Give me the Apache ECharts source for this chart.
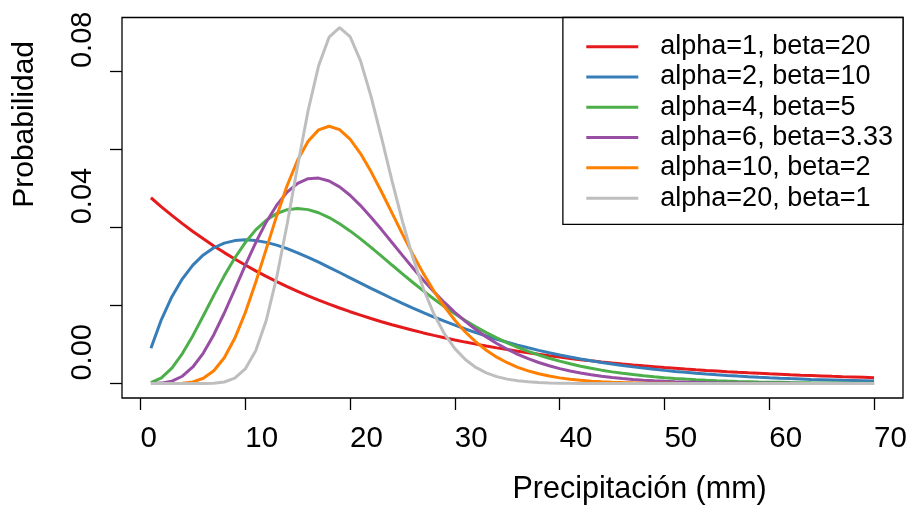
<!DOCTYPE html>
<html>
<head>
<meta charset="utf-8">
<script src="https://cdn.jsdelivr.net/npm/echarts@6/dist/echarts.min.js"></script>
<style>
  html, body { margin: 0; padding: 0; background: #fff; }
  #chart { width: 911px; height: 513px; }
</style>
</head>
<body>
<div id="chart"></div>
<script>
// precipitación (mm)
var precip = [
  1, 2, 3, 4, 5, 6, 7, 8, 9, 10,
  11, 12, 13, 14, 15, 16, 17, 18, 19, 20,
  21, 22, 23, 24, 25, 26, 27, 28, 29, 30,
  31, 32, 33, 34, 35, 36, 37, 38, 39, 40,
  41, 42, 43, 44, 45, 46, 47, 48, 49, 50,
  51, 52, 53, 54, 55, 56, 57, 58, 59, 60,
  61, 62, 63, 64, 65, 66, 67, 68, 69, 70
]

var seriesNames = [
  'alpha=1, beta=20',
  'alpha=2, beta=10',
  'alpha=4, beta=5',
  'alpha=6, beta=3.33',
  'alpha=10, beta=2',
  'alpha=20, beta=1'
]
var seriesColors = ['#E41A1C', '#377EB8', '#4DAF4A', '#984EA3', '#FF7F00', '#BEBEBE']

var probA1 = [
  0.04756, 0.04524, 0.04304, 0.04094, 0.03894, 0.03704, 0.03523, 0.03352, 0.03188, 0.03033,
  0.02885, 0.02744, 0.02610, 0.02483, 0.02362, 0.02247, 0.02137, 0.02033, 0.01934, 0.01839,
  0.01750, 0.01664, 0.01583, 0.01506, 0.01433, 0.01363, 0.01296, 0.01233, 0.01173, 0.01116,
  0.01061, 0.01009, 0.00960, 0.00913, 0.00869, 0.00826, 0.00786, 0.00748, 0.00711, 0.00677,
  0.00644, 0.00612, 0.00582, 0.00554, 0.00527, 0.00501, 0.00477, 0.00454, 0.00432, 0.00410,
  0.00391, 0.00371, 0.00353, 0.00336, 0.00320, 0.00304, 0.00289, 0.00275, 0.00262, 0.00249,
  0.00237, 0.00225, 0.00214, 0.00204, 0.00194, 0.00184, 0.00175, 0.00167, 0.00159, 0.00151
]
var probA2 = [
  0.00905, 0.01637, 0.02222, 0.02681, 0.03033, 0.03293, 0.03476, 0.03595, 0.03659, 0.03679,
  0.03662, 0.03614, 0.03543, 0.03452, 0.03347, 0.03230, 0.03106, 0.02975, 0.02842, 0.02707,
  0.02572, 0.02438, 0.02306, 0.02177, 0.02052, 0.01931, 0.01815, 0.01703, 0.01596, 0.01494,
  0.01397, 0.01304, 0.01217, 0.01135, 0.01057, 0.00984, 0.00915, 0.00850, 0.00789, 0.00733,
  0.00679, 0.00630, 0.00583, 0.00540, 0.00500, 0.00462, 0.00427, 0.00395, 0.00365, 0.00337,
  0.00311, 0.00287, 0.00265, 0.00244, 0.00225, 0.00207, 0.00191, 0.00176, 0.00162, 0.00149,
  0.00137, 0.00126, 0.00116, 0.00106, 0.00098, 0.00090, 0.00082, 0.00076, 0.00070, 0.00064
]
var probA4 = [
  0.00022, 0.00143, 0.00395, 0.00767, 0.01226, 0.01735, 0.02256, 0.02757, 0.03213, 0.03609,
  0.03933, 0.04180, 0.04352, 0.04450, 0.04481, 0.04452, 0.04372, 0.04249, 0.04092, 0.03907,
  0.03703, 0.03486, 0.03261, 0.03034, 0.02808, 0.02586, 0.02371, 0.02165, 0.01969, 0.01785,
  0.01612, 0.01452, 0.01303, 0.01168, 0.01043, 0.00929, 0.00825, 0.00732, 0.00649, 0.00573,
  0.00505, 0.00445, 0.00390, 0.00343, 0.00299, 0.00262, 0.00229, 0.00200, 0.00174, 0.00151,
  0.00132, 0.00114, 0.00099, 0.00086, 0.00074, 0.00064, 0.00055, 0.00048, 0.00041, 0.00035,
  0.00031, 0.00026, 0.00023, 0.00019, 0.00017, 0.00014, 0.00012, 0.00010, 0.00009, 0.00008
]
var probA6 = [
  0.00000, 0.00011, 0.00060, 0.00187, 0.00424, 0.00781, 0.01250, 0.01806, 0.02411, 0.03025,
  0.03609, 0.04131, 0.04566, 0.04900, 0.05125, 0.05243, 0.05259, 0.05185, 0.05033, 0.04819,
  0.04556, 0.04259, 0.03941, 0.03612, 0.03281, 0.02957, 0.02646, 0.02351, 0.02076, 0.01822,
  0.01590, 0.01381, 0.01193, 0.01026, 0.00879, 0.00749, 0.00637, 0.00539, 0.00455, 0.00382,
  0.00320, 0.00268, 0.00223, 0.00185, 0.00154, 0.00127, 0.00105, 0.00086, 0.00071, 0.00058,
  0.00048, 0.00039, 0.00032, 0.00026, 0.00021, 0.00017, 0.00014, 0.00011, 0.00009, 0.00007,
  0.00006, 0.00005, 0.00004, 0.00003, 0.00002, 0.00002, 0.00002, 0.00001, 0.00001, 0.00001
]
var probA10 = [
  0.00000, 0.00000, 0.00001, 0.00010, 0.00043, 0.00135, 0.00328, 0.00661, 0.01158, 0.01813,
  0.02593, 0.03442, 0.04291, 0.05070, 0.05722, 0.06204, 0.06493, 0.06587, 0.06500, 0.06255,
  0.05886, 0.05426, 0.04910, 0.04368, 0.03826, 0.03303, 0.02814, 0.02368, 0.01969, 0.01620,
  0.01320, 0.01066, 0.00853, 0.00676, 0.00533, 0.00416, 0.00323, 0.00249, 0.00191, 0.00145,
  0.00110, 0.00083, 0.00062, 0.00046, 0.00034, 0.00025, 0.00019, 0.00014, 0.00010, 0.00007,
  0.00005, 0.00004, 0.00003, 0.00002, 0.00001, 0.00001, 0.00001, 0.00001, 0.00000, 0.00000,
  0, 0, 0, 0, 0, 0, 0, 0, 0, 0
]
var probA20 = [
  0, 0, 0, 0, 0.00000, 0.00001, 0.00009, 0.00040, 0.00137, 0.00373,
  0.00840, 0.01614, 0.02716, 0.04085, 0.05574, 0.06989, 0.08135, 0.08867, 0.09111, 0.08883,
  0.08258, 0.07351, 0.06294, 0.05196, 0.04152, 0.03219, 0.02427, 0.01781, 0.01276, 0.00894,
  0.00614, 0.00412, 0.00272, 0.00177, 0.00113, 0.00071, 0.00044, 0.00027, 0.00016, 0.00010,
  0.00006, 0.00003, 0.00002, 0.00001, 0.00001, 0, 0, 0, 0, 0,
  0, 0, 0, 0, 0, 0, 0, 0, 0, 0,
  0, 0, 0, 0, 0, 0, 0, 0, 0, 0
]

var xTicks = [0, 10, 20, 30, 40, 50, 60, 70]
var yTicks = [0, 0.02, 0.04, 0.06, 0.08]
var yTickLabels = [0, 0.04, 0.08]

var allProbs = [probA1, probA2, probA4, probA6, probA10, probA20]
var font = "'Liberation Sans', Arial, sans-serif"

var chart = echarts.init(document.getElementById('chart'))

var series = allProbs.map(function(vals, i) {
  return {
    name: seriesNames[i],
    type: 'line',
    symbol: 'none',
    animation: false,
    data: precip.map(function(x, j) { return [x, vals[j]] }),
    lineStyle: { color: seriesColors[i], width: 3 },
    itemStyle: { color: seriesColors[i] }
  }
})

chart.setOption({
  backgroundColor: '#fff',
  textStyle: { fontFamily: font },
  grid: {
    left: 122, right: 8, top: 17.5, bottom: 115,
    show: true, borderColor: '#000', borderWidth: 1.3,
    containLabel: false
  },
  legend: {
    data: seriesNames,
    orient: 'vertical',
    right: 8,
    top: 17.5,
    icon: 'rect',
    itemWidth: 52,
    itemHeight: 3,
    itemGap: 0,
    padding: [14, 10, 11, 23.4],
    borderColor: '#000',
    borderWidth: 1.3,
    borderRadius: 0,
    backgroundColor: '#fff',
    textStyle: {
      fontFamily: font, fontSize: 27, color: '#000',
      lineHeight: 30.3, padding: [0, 0, 0, 17]
    }
  },
  xAxis: {
    type: 'value',
    min: -1.76,
    max: 72.76,
    name: 'Precipitación (mm)',
    nameLocation: 'middle',
    nameGap: 77,
    nameTextStyle: { fontFamily: font, fontSize: 30.5, color: '#000', align: 'left', lineHeight: 30 },
    splitLine: { show: false },
    axisLine: { show: false, onZero: false },
    axisTick: {
      show: true, length: 12, inside: false,
      customValues: xTicks,
      lineStyle: { color: '#000', width: 1.3 }
    },
    axisLabel: {
      customValues: xTicks,
      fontFamily: font, fontSize: 29.5, color: '#000',
      align: 'left', lineHeight: 30, margin: 26,
      formatter: function(v) { return String(v) }
    }
  },
  yAxis: {
    type: 'value',
    min: -0.0037,
    max: 0.0937,
    name: 'Probabilidad',
    nameLocation: 'middle',
    nameRotate: 90,
    nameGap: 82,
    nameTextStyle: { fontFamily: font, fontSize: 30, color: '#000', align: 'left', lineHeight: 30 },
    splitLine: { show: false },
    axisLine: { show: false, onZero: false },
    axisTick: {
      show: true, length: 12, inside: false,
      customValues: yTicks,
      lineStyle: { color: '#000', width: 1.3 }
    },
    axisLabel: {
      customValues: yTickLabels,
      rotate: 90,
      fontFamily: font, fontSize: 29, color: '#000',
      align: 'left', lineHeight: 29, margin: 25, padding: [0, 0, 0, 3],
      formatter: function(v) { return v.toFixed(2) }
    }
  },
  series: series
})
</script>
</body>
</html>
